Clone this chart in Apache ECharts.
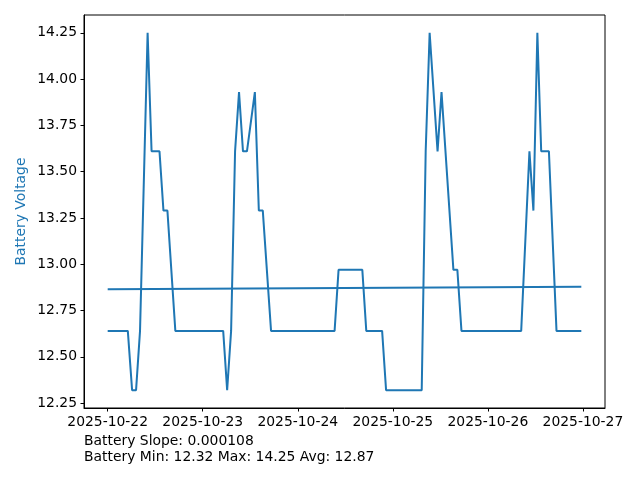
<!DOCTYPE html>
<html>
<head>
<meta charset="utf-8">
<script src="https://cdn.jsdelivr.net/npm/echarts@6/dist/echarts.min.js"></script>
<style>html,body{margin:0;padding:0;background:#fff}#c{width:640px;height:480px}</style>
</head>
<body>
<div id="c"></div>
<script>
var times = [
 "2025-10-22 00:00","2025-10-22 05:05","2025-10-22 06:10","2025-10-22 07:10","2025-10-22 08:10",
 "2025-10-22 10:05","2025-10-22 11:05","2025-10-22 13:05","2025-10-22 14:05","2025-10-22 15:05",
 "2025-10-22 17:05","2025-10-23 05:10","2025-10-23 06:10","2025-10-23 07:10","2025-10-23 08:10",
 "2025-10-23 09:10","2025-10-23 10:10","2025-10-23 11:10","2025-10-23 13:10","2025-10-23 14:10",
 "2025-10-23 15:10","2025-10-23 17:15","2025-10-24 09:18","2025-10-24 10:18","2025-10-24 16:18",
 "2025-10-24 17:18","2025-10-24 21:18","2025-10-24 22:18","2025-10-25 07:18","2025-10-25 08:18",
 "2025-10-25 09:18","2025-10-25 11:18","2025-10-25 12:18","2025-10-25 15:18","2025-10-25 16:18",
 "2025-10-25 17:20","2025-10-26 08:25","2025-10-26 10:30","2025-10-26 11:30","2025-10-26 12:30",
 "2025-10-26 13:28","2025-10-26 15:25","2025-10-26 17:20","2025-10-26 23:36"
];
var voltages = [
 12.64,12.64,12.32,12.32,12.64,
 14.25,13.61,13.61,13.29,13.29,
 12.64,12.64,12.32,12.64,13.61,
 13.93,13.61,13.61,13.93,13.29,
 13.29,12.64,12.64,12.97,12.97,
 12.64,12.64,12.32,12.32,13.61,
 14.25,13.61,13.93,12.97,12.97,
 12.64,12.64,13.61,13.29,14.25,
 13.61,13.61,12.64,12.64
];
var trendTimes = ["2025-10-22 00:00","2025-10-26 23:36"];
var trendValues = [12.865, 12.878];
var yTicks = [12.25,12.50,12.75,13.00,13.25,13.50,13.75,14.00,14.25];
var infoLines = ["Battery Slope: 0.000108","Battery Min: 12.32 Max: 14.25 Avg: 12.87"];
var yLabel = "Battery Voltage";

function parseT(s){ var p=s.split(/[- :]/); return new Date(+p[0],+p[1]-1,+p[2],+p[3],+p[4]).getTime(); }
var tms = times.map(parseT);
var t0 = tms[0], t1 = tms[tms.length-1], span = t1 - t0;
var vmin = Math.min.apply(null, voltages), vmax = Math.max.apply(null, voltages), vr = vmax - vmin;
var data = tms.map(function(t,i){return [t, voltages[i]];});
var trend = trendTimes.map(function(s,i){return [parseT(s), trendValues[i]];});
function pad(n){return (n<10?'0':'')+n;}
var FONT = 'DejaVu Sans';
var chart = echarts.init(document.getElementById('c'), null, {renderer:'canvas'});
chart.setOption({
  animation:false,
  backgroundColor:'#fff',
  grid:{left:84,right:35,top:15,bottom:72,show:true,borderColor:'#000',borderWidth:1,backgroundColor:'transparent'},
  xAxis:{
    type:'time', min:t0-0.05*span, max:t1+0.05*span,
    minInterval:86400000, maxInterval:86400000, splitNumber:5,
    axisLine:{show:true,lineStyle:{color:'#000',width:1}},
    axisTick:{show:true,length:3.5,inside:false,lineStyle:{color:'#000'}},
    splitLine:{show:false},
    axisLabel:{color:'#000',fontFamily:FONT,fontSize:13.9,margin:7,hideOverlap:false,
      formatter:function(v){var d=new Date(v);return d.getFullYear()+'-'+pad(d.getMonth()+1)+'-'+pad(d.getDate());}}
  },
  yAxis:{
    type:'value', min:vmin-0.05*vr, max:vmax+0.05*vr,
    axisLine:{show:true,lineStyle:{color:'#000',width:1}},
    axisTick:{show:true,length:3.5,inside:false,lineStyle:{color:'#000'},customValues:yTicks},
    splitLine:{show:false},
    axisLabel:{color:'#000',fontFamily:FONT,fontSize:13.9,margin:7,customValues:yTicks,
      formatter:function(v){return v.toFixed(2);}}
  },
  series:[
    {type:'line',data:data,showSymbol:false,symbol:'none',lineStyle:{color:'#1f77b4',width:2},itemStyle:{color:'#1f77b4'}},
    {type:'line',data:trend,showSymbol:false,symbol:'none',lineStyle:{color:'#1f77b4',width:2}}
  ],
  graphic:[
    {type:'text',left:84,top:434,style:{text:infoLines[0],fill:'#000',font:'13.9px "DejaVu Sans"'}},
    {type:'text',left:84,top:450,style:{text:infoLines[1],fill:'#000',font:'13.9px "DejaVu Sans"'}},
    {type:'text',x:21,y:211.5,rotation:Math.PI/2,style:{text:yLabel,fill:'#1f77b4',font:'13.9px "DejaVu Sans"',align:'center',verticalAlign:'middle'}}
  ]
});
</script>
</body>
</html>
